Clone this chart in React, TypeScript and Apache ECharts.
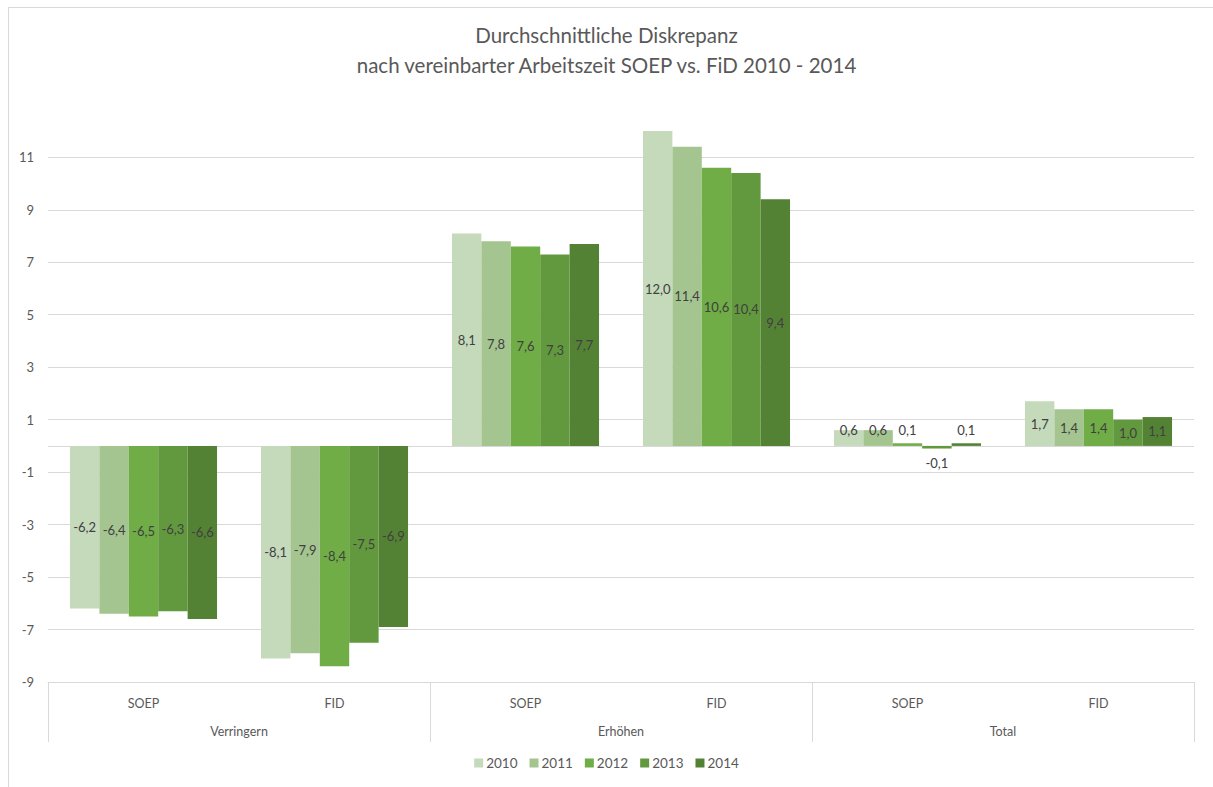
import React, { useEffect, useRef } from "react";
import * as echarts from "echarts";

const categories = ["SOEP", "FID", "SOEP", "FID", "SOEP", "FID"];
const groups = ["Verringern", "Erhöhen", "Total"];
const years = ["2010", "2011", "2012", "2013", "2014"];
const v2010 = [-6.2, -8.1, 8.1, 12.0, 0.6, 1.7];
const v2011 = [-6.4, -7.9, 7.8, 11.4, 0.6, 1.4];
const v2012 = [-6.5, -8.4, 7.6, 10.6, 0.1, 1.4];
const v2013 = [-6.3, -7.5, 7.3, 10.4, -0.1, 1.0];
const v2014 = [-6.6, -6.9, 7.7, 9.4, 0.1, 1.1];
const seriesValues = [v2010, v2011, v2012, v2013, v2014];
const colors = ["#c5d9bb", "#a5c590", "#70ad47", "#62993e", "#548235"];
const titleLines = [
  "Durchschnittliche Diskrepanz",
  "nach vereinbarter Arbeitszeit SOEP vs. FiD 2010 - 2014",
];

const FONT = "Lato, 'Open Sans', sans-serif";
const TXT = "#595959";
const GRID = "#d9d9d9";

export default function App() {
  const ref = useRef<HTMLDivElement>(null);
  useEffect(() => {
    if (!ref.current) return;
    const chart = echarts.init(ref.current, undefined, { renderer: "svg" });
    const fmt = (v: number) => v.toFixed(1).replace(".", ",");
    const series = years.map((y, si) => ({
      name: y,
      type: "bar",
      xAxisIndex: 0,
      yAxisIndex: 0,
      barGap: "0%",
      barCategoryGap: "23%",
      itemStyle: { color: colors[si] },
      data: seriesValues[si].map((v) => {
        const small = Math.abs(v) < 0.8;
        const label = small
          ? v >= 0
            ? { position: "insideBottom", distance: 9 }
            : { position: "bottom", distance: 8 }
          : { position: "inside" };
        return { value: v, label };
      }),
      label: {
        show: true,
        color: "#404040",
        fontSize: 13,
        fontFamily: FONT,
        formatter: (p: any) => fmt(p.value),
      },
      markLine:
        si === 0
          ? {
              silent: true,
              symbol: "none",
              label: { show: false },
              lineStyle: { color: GRID, type: "solid", width: 1 },
              z: 0,
              data: [{ yAxis: 0 }],
            }
          : undefined,
    }));
    chart.setOption({
      animation: false,
      textStyle: { fontFamily: FONT },
      title: {
        text: titleLines.join("\n"),
        left: "center",
        top: 15,
        textStyle: {
          fontFamily: FONT,
          fontSize: 20.5,
          fontWeight: "normal",
          color: TXT,
          lineHeight: 30,
        },
      },
      legend: {
        bottom: 12,
        left: "center",
        itemWidth: 9,
        itemHeight: 9,
        itemGap: 12,
        icon: "rect",
        textStyle: { color: TXT, fontSize: 13.5, fontFamily: FONT, padding: [0, 0, 0, -2] },
        data: years,
      },
      grid: { left: 48, right: 19, top: 118, bottom: 105 },
      xAxis: [
        {
          type: "category",
          data: categories,
          position: "bottom",
          axisLine: { show: true, onZero: false, lineStyle: { color: GRID } },
          axisTick: { show: false },
          axisLabel: { color: TXT, fontSize: 12.5, fontFamily: FONT, margin: 15 },
        },
        {
          type: "category",
          data: groups,
          position: "bottom",
          axisLine: { show: false, onZero: false },
          axisTick: { show: true, length: 60, lineStyle: { color: GRID } },
          axisLabel: { color: TXT, fontSize: 12.5, fontFamily: FONT, margin: 43 },
        },
      ],
      yAxis: {
        type: "value",
        min: -9,
        max: 12.5,
        interval: 2,
        axisLine: { show: false },
        axisTick: { show: false },
        axisLabel: {
          color: TXT,
          fontSize: 13,
          fontFamily: FONT,
          margin: 14,
          formatter: (v: number) => (Number.isInteger(v) && Math.abs(v % 2) === 1 ? String(v) : ""),
        },
        splitLine: {
          show: true,
          lineStyle: {
            color: [GRID, GRID, GRID, GRID, GRID, GRID, GRID, GRID, GRID, GRID, GRID, "rgba(0,0,0,0)"],
          },
        },
      },
      graphic: [
        { type: "line", shape: { x1: 8, y1: 7.5, x2: 1213, y2: 7.5 }, style: { stroke: "#d9d9d9", lineWidth: 1 } },
        { type: "line", shape: { x1: 8.5, y1: 7, x2: 8.5, y2: 787 }, style: { stroke: "#d9d9d9", lineWidth: 1 } },
      ],
      series,
    });
    return () => chart.dispose();
  }, []);
  return (
    <div
      ref={ref}
      style={{ position: "fixed", left: 0, top: 0, width: 1213, height: 787, background: "#fff" }}
    />
  );
}
